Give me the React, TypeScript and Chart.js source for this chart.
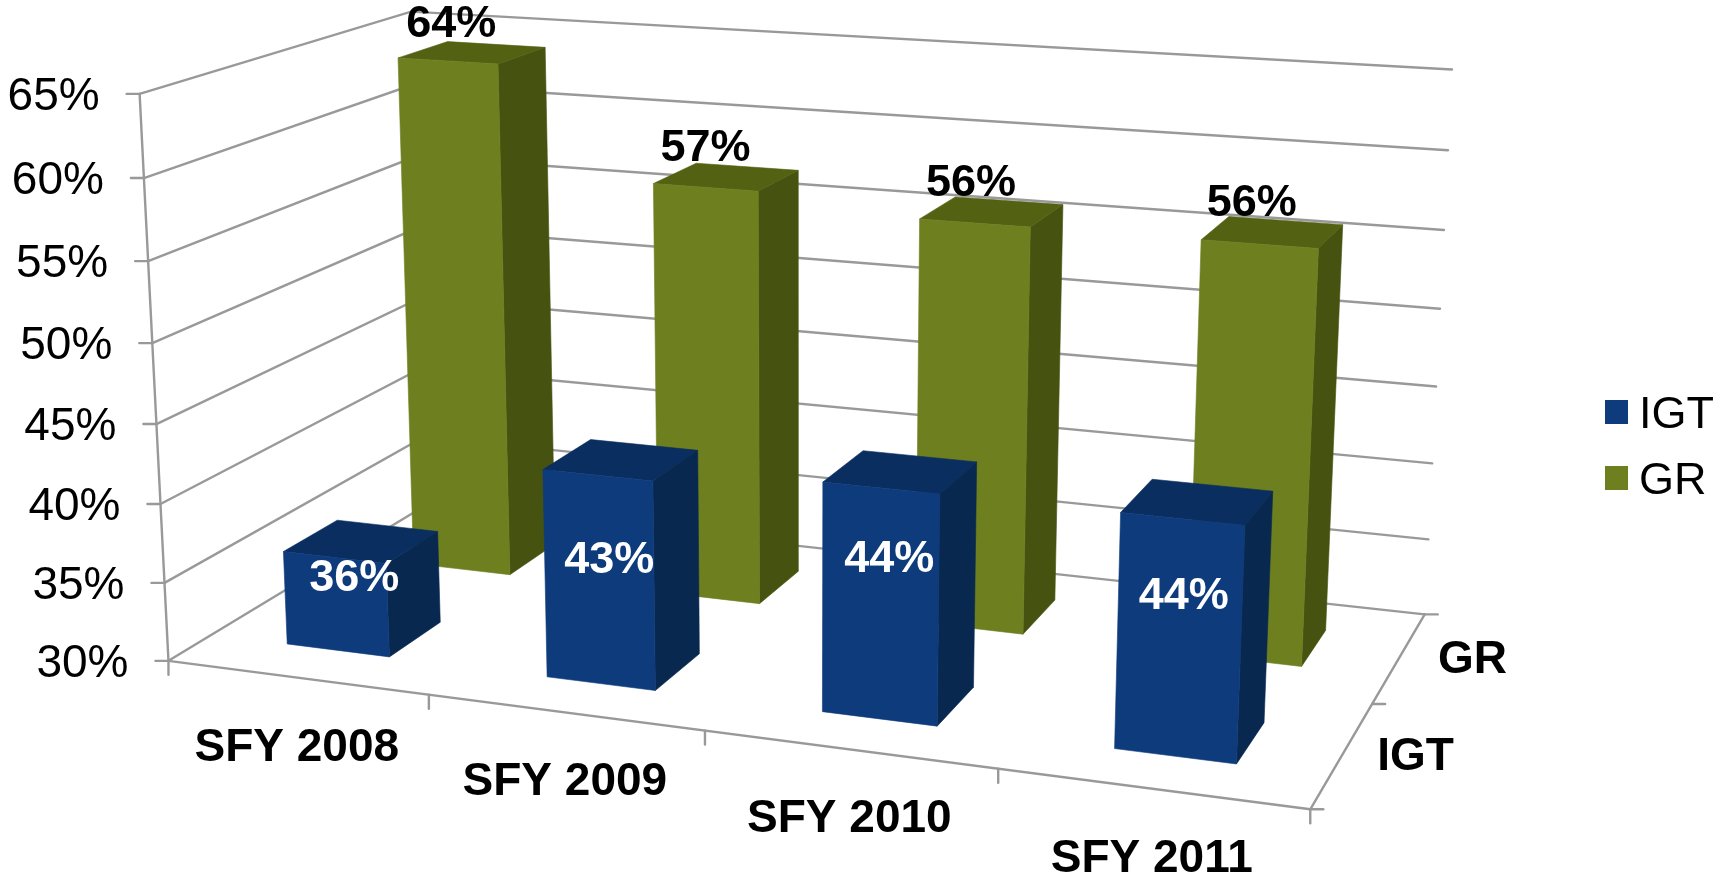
import React, { useEffect, useRef } from "react";
import { Chart, registerables } from "chart.js";

Chart.register(...registerables);

// ---- data ----
const categories = ["SFY 2008", "SFY 2009", "SFY 2010", "SFY 2011"];
const seriesNames = ["IGT", "GR"];
const igtValues = [36, 43, 44, 44];
const grValues = [64, 57, 56, 56];
const valueMin = 30;
const valueMax = 65;
const valueStep = 5;

// ---- colours ----
const IGT_COLORS = { front: "#0D3B7C", top: "#0A2E5F", side: "#08284F" };
const GR_COLORS = { front: "#6D7F1E", top: "#536212", side: "#465310" };
const AXIS_COLOR = "#999999";
const FONT = '"Liberation Sans", Arial, sans-serif';

// ---- camera: fitted from anchor points of the 3D box (u, v, w) -> screen ----
const anchors: number[][] = [
  [0, 0, 0, 169, 661], [0.25, 0, 0, 429, 695], [0.5, 0, 0, 705, 732], [0.75, 0, 0, 998, 768], [1, 0, 0, 1310, 808],
  [0, 1, 0, 140, 94], [0, 6 / 7, 0, 144, 178], [0, 5 / 7, 0, 148, 261], [0, 2 / 7, 0, 160, 504], [0, 1 / 7, 0, 164, 583],
  [1, 1, 1, 1452, 69], [1, 6 / 7, 1, 1448, 150], [1, 5 / 7, 1, 1444, 230], [1, 4 / 7, 1, 1440, 309],
  [1, 3 / 7, 1, 1436, 387], [1, 2 / 7, 1, 1432, 463], [1, 1 / 7, 1, 1429, 540], [1, 0, 1, 1424, 615],
  [0, 1, 1, 411, 12], [0, 0, 1, 426, 504], [1, 0, 0.5, 1373, 704],
];

function fitCamera(points: number[][]): number[] {
  const n = 11;
  const A = Array.from({ length: n }, () => new Array(n + 1).fill(0));
  const add = (row: number[], rhs: number) => {
    for (let i = 0; i < n; i++) {
      for (let j = 0; j < n; j++) A[i][j] += row[i] * row[j];
      A[i][n] += row[i] * rhs;
    }
  };
  for (const [X, Y, Z, px, py] of points) {
    const x = px / 1000;
    const y = py / 1000;
    add([X, Y, Z, 1, 0, 0, 0, 0, -x * X, -x * Y, -x * Z], x);
    add([0, 0, 0, 0, X, Y, Z, 1, -y * X, -y * Y, -y * Z], y);
  }
  for (let c = 0; c < n; c++) {
    let p = c;
    for (let r = c + 1; r < n; r++) if (Math.abs(A[r][c]) > Math.abs(A[p][c])) p = r;
    [A[c], A[p]] = [A[p], A[c]];
    for (let r = 0; r < n; r++) {
      if (r === c) continue;
      const f = A[r][c] / A[c][c];
      for (let k = c; k <= n; k++) A[r][k] -= f * A[c][k];
    }
  }
  return A.map((row, i) => row[n] / row[i]);
}
const cam = fitCamera(anchors);
function project(u: number, v: number, w: number): [number, number] {
  const d = cam[8] * u + cam[9] * v + cam[10] * w + 1;
  return [
    (1000 * (cam[0] * u + cam[1] * v + cam[2] * w + cam[3])) / d,
    (1000 * (cam[4] * u + cam[5] * v + cam[6] * w + cam[7])) / d,
  ];
}

// ---- layout constants ----
const BAR_DEPTH = [
  [0.15, 0.35], // IGT row
  [0.645, 0.85], // GR row
];
const IGT_LABEL_NUDGE = [[18, -29], [10, -23.5], [9, -48], [5, -46]];
const GR_LABEL_NUDGE = [-21, -32];

function poly(ctx: CanvasRenderingContext2D, pts: [number, number][], color: string) {
  ctx.beginPath();
  pts.forEach((p, i) => (i ? ctx.lineTo(p[0], p[1]) : ctx.moveTo(p[0], p[1])));
  ctx.closePath();
  ctx.fillStyle = color;
  ctx.strokeStyle = color;
  ctx.lineWidth = 0.6;
  ctx.fill();
  ctx.stroke();
}
function seg(ctx: CanvasRenderingContext2D, a: number[], b: number[]) {
  ctx.beginPath();
  ctx.moveTo(a[0], a[1]);
  ctx.lineTo(b[0], b[1]);
  ctx.stroke();
}
function centerText(ctx: CanvasRenderingContext2D, s: string, x: number, y: number, align: CanvasTextAlign = "center") {
  ctx.textAlign = align;
  ctx.textBaseline = "alphabetic";
  ctx.fillText(s, x, y + 16);
}

const scenePlugin = {
  id: "scene3d",
  beforeDatasetDraw() {
    return false; // the flat bars are replaced by their projected boxes
  },
  beforeDatasetsDraw(chart: any) {
    const ctx: CanvasRenderingContext2D = chart.ctx;
    const area = chart.chartArea;
    const yScale = chart.scales.y;
    const xScale = chart.scales.x;
    ctx.save();
    ctx.strokeStyle = AXIS_COLOR;
    ctx.lineWidth = 2.4;
    ctx.lineCap = "round";
    for (const t of yScale.ticks) {
      const v = (area.bottom - yScale.getPixelForValue(t.value)) / area.height;
      const p0 = project(0, v, 0);
      const p1 = project(0, v, 1);
      const p2 = project(1, v, 1);
      ctx.beginPath();
      ctx.moveTo(p0[0], p0[1]);
      ctx.lineTo(p1[0], p1[1]);
      ctx.lineTo(p2[0], p2[1]);
      ctx.stroke();
      seg(ctx, [p0[0] - 13, p0[1]], p0);
      ctx.fillStyle = "#000";
      ctx.font = `46px ${FONT}`;
      centerText(ctx, t.label, p0[0] - 40, p0[1], "right");
    }
    seg(ctx, project(0, 0, 0), project(0, 1, 0));
    seg(ctx, project(0, 0, 0), project(1, 0, 0));
    seg(ctx, project(1, 0, 0), project(1, 0, 1));
    // category ticks and labels
    ctx.fillStyle = "#000";
    ctx.font = `bold 46px ${FONT}`;
    const n = categories.length;
    for (let i = 0; i <= n; i++) {
      const p = project(i / n, 0, 0);
      seg(ctx, p, [p[0], p[1] + 14]);
    }
    categories.forEach((c, i) => {
      const u = (xScale.getPixelForValue(i) - area.left) / area.width;
      const p = project(u, 0, 0);
      centerText(ctx, c, p[0], p[1] + 67);
    });
    // depth ticks and labels
    for (let i = 0; i <= seriesNames.length; i++) {
      const p = project(1, 0, i / seriesNames.length);
      seg(ctx, p, [p[0] + 13, p[1]]);
    }
    seriesNames.forEach((s, i) => {
      const p = project(1, 0, (i + 0.5) / seriesNames.length);
      centerText(ctx, s, p[0] + 73, p[1]);
    });
    ctx.restore();
  },
  afterDatasetsDraw(chart: any) {
    const ctx: CanvasRenderingContext2D = chart.ctx;
    const area = chart.chartArea;
    ctx.save();
    const palettes = [IGT_COLORS, GR_COLORS];
    // back row first
    for (const di of [1, 0]) {
      const meta = chart.getDatasetMeta(di);
      const [w0, w1] = BAR_DEPTH[di];
      const colors = palettes[di];
      meta.data.forEach((el: any, i: number) => {
        const u0 = (el.x - el.width / 2 - area.left) / area.width;
        const u1 = (el.x + el.width / 2 - area.left) / area.width;
        const v0 = (area.bottom - el.base) / area.height;
        const v1 = (area.bottom - el.y) / area.height;
        poly(ctx, [project(u1, v0, w0), project(u1, v0, w1), project(u1, v1, w1), project(u1, v1, w0)], colors.side);
        poly(ctx, [project(u0, v1, w0), project(u1, v1, w0), project(u1, v1, w1), project(u0, v1, w1)], colors.top);
        poly(ctx, [project(u0, v0, w0), project(u1, v0, w0), project(u1, v1, w0), project(u0, v1, w0)], colors.front);
        const label = `${chart.data.datasets[di].data[i]}%`;
        ctx.font = `bold 45px ${FONT}`;
        if (di === 1) {
          const p = project((u0 + u1) / 2, v1, (w0 + w1) / 2);
          ctx.fillStyle = "#000";
          centerText(ctx, label, p[0] + GR_LABEL_NUDGE[0], p[1] + GR_LABEL_NUDGE[1]);
        } else {
          const p = project((u0 + u1) / 2, (v0 + v1) / 2, w0);
          ctx.fillStyle = "#fff";
          centerText(ctx, label, p[0] + IGT_LABEL_NUDGE[i][0], p[1] + IGT_LABEL_NUDGE[i][1]);
        }
      });
    }
    // legend
    ctx.font = `45px ${FONT}`;
    chart.data.datasets.forEach((ds: any, i: number) => {
      const y = 412 + i * 66;
      ctx.fillStyle = ds.backgroundColor;
      ctx.fillRect(1605, y - 12, 23, 24);
      ctx.fillStyle = "#000";
      centerText(ctx, ds.label, 1639, y, "left");
    });
    ctx.restore();
  },
};

export default function App() {
  const ref = useRef<HTMLCanvasElement>(null);
  useEffect(() => {
    const chart = new Chart(ref.current!, {
      type: "bar",
      data: {
        labels: categories,
        datasets: [
          { label: seriesNames[0], data: igtValues, backgroundColor: IGT_COLORS.front, grouped: false, base: valueMin },
          { label: seriesNames[1], data: grValues, backgroundColor: GR_COLORS.front, grouped: false, base: valueMin },
        ],
      },
      options: {
        responsive: false,
        animation: false,
        devicePixelRatio: 1,
        layout: { padding: 0 },
        datasets: { bar: { barPercentage: 0.4, categoryPercentage: 1 } },
        plugins: { legend: { display: false }, tooltip: { enabled: false } },
        scales: {
          x: { display: false },
          y: {
            display: false,
            min: valueMin,
            max: valueMax,
            ticks: { stepSize: valueStep, callback: (v: any) => `${v}%` },
          },
        },
      },
      plugins: [scenePlugin],
    } as any);
    return () => chart.destroy();
  }, []);
  return (
    <div style={{ position: "fixed", left: 0, top: 0, width: 1721, height: 876, background: "#fff" }}>
      <canvas ref={ref} width={1721} height={876} style={{ display: "block", filter: "blur(0.5px)" }} />
    </div>
  );
}
